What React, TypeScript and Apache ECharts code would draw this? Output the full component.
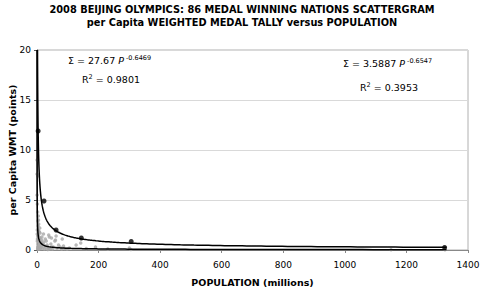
import React, { useEffect, useRef } from "react";
import * as echarts from "echarts";

const titleLines = [
  "2008 BEIJING OLYMPICS: 86 MEDAL WINNING NATIONS SCATTERGRAM",
  "per Capita WEIGHTED MEDAL TALLY versus POPULATION",
];
const xAxisName = "POPULATION (millions)";
const yAxisName = "per Capita WMT (points)";

// black grouped points [population (millions), per capita WMT]
const groupPoints: number[][] = [
  [3.7, 11.9], [22.8, 4.9], [62, 2.0], [144, 1.2], [306, 0.85], [1324, 0.25],
];

// grey individual nations
const nationPoints: number[][] = [
  [0.3, 9.0], [0.3, 7.6], [2.7, 7.4], [0.3, 5.5], [1.3, 4.6], [2.0, 3.8], [4.3, 3.4],
  [4.8, 3.0], [2.3, 2.9], [5.4, 2.6], [3.4, 2.4], [9.0, 2.2], [1.0, 2.0], [5.5, 1.9],
  [7.6, 1.8], [10.0, 1.7], [4.5, 1.5], [3.0, 1.4], [21, 1.6], [16, 1.3], [10.3, 1.2],
  [8.2, 1.1], [15, 1.0], [38, 1.5], [40, 1.3], [27, 1.1], [30, 0.9], [22, 0.8],
  [47, 1.2], [60, 1.0], [62, 1.4], [82, 1.1], [58, 0.9], [20, 0.6], [10.6, 0.7],
  [7.3, 0.5], [5.2, 0.4], [3.6, 0.6], [2.5, 0.3], [1.1, 0.9], [11, 0.4], [14, 0.3],
  [25, 0.4], [33, 0.5], [45, 0.6], [48, 0.3], [70, 0.5], [75, 0.3], [86, 0.4],
  [127, 0.5], [142, 0.7], [105, 0.2], [160, 0.15], [190, 0.3], [230, 0.1], [300, 0.2],
  [65, 0.2], [37, 0.2], [40, 0.1], [9, 0.2], [6, 0.1], [4, 0.15], [2, 0.1], [7, 0.3],
  [12, 0.15], [18, 0.2], [24, 0.1], [29, 0.25], [35, 0.05], [44, 0.15], [50, 0.1],
  [53, 0.3], [80, 0.1], [90, 0.15], [98, 0.1], [1.5, 1.1], [0.8, 1.6], [3.1, 2.0],
  [5.0, 0.8], [8.5, 0.9], [6.5, 1.3], [13.0, 0.8], [17, 0.5], [1325, 0.02],
  [1150, 0.03], [305, 0.05],
];

// power trendlines shown on the chart: Σ = a P^b
const upperFit = { a: 27.67, b: -0.6469, r2: "0.9801" };
const lowerFit = { a: 3.5887, b: -0.6547, r2: "0.3953" };
const fitRangeMax = 1330;

const xTicks = { min: 0, max: 1400, interval: 200 };
const yTicks = { min: 0, max: 20, interval: 5 };

function trend(fit: { a: number; b: number }, yMax: number): number[][] {
  const pStart = Math.pow(fit.a / yMax, 1 / -fit.b);
  const pts: number[][] = [];
  const n = 300;
  const l0 = Math.log(pStart);
  const l1 = Math.log(fitRangeMax);
  for (let i = 0; i <= n; i++) {
    const p = Math.exp(l0 + ((l1 - l0) * i) / n);
    pts.push([p, fit.a * Math.pow(p, fit.b)]);
  }
  return pts;
}

const FONT = "DejaVu Sans";

export default function App() {
  const ref = useRef<HTMLDivElement>(null);
  useEffect(() => {
    if (!ref.current) return;
    const chart = echarts.init(ref.current, null, { renderer: "svg" });
    const eq = (fit: { a: number; b: number }) => ({
      text: `{n|Σ = ${fit.a} }{i|P}{s| ${fit.b}}`,
      rich: {
        n: { fontSize: 9.5, fontFamily: FONT, fill: "#000" },
        i: { fontSize: 9.5, fontFamily: FONT, fontStyle: "italic", fill: "#000" },
        s: { fontSize: 6.5, fontFamily: FONT, fill: "#000", verticalAlign: "top", padding: [0, 0, 6, 0] },
      },
    });
    const r2 = (v: string) => ({
      text: `{n|R}{s|2}{n| = ${v}}`,
      rich: {
        n: { fontSize: 9.5, fontFamily: FONT, fill: "#000" },
        s: { fontSize: 6.5, fontFamily: FONT, fill: "#000", padding: [0, 0, 6, 0] },
      },
    });
    chart.setOption({
      animation: false,
      backgroundColor: "#fff",
      title: {
        text: titleLines.join("\n"),
        left: 237,
        textAlign: "center",
        top: -2,
        textStyle: { fontFamily: FONT, fontSize: 9.8, fontWeight: "bold", color: "#000", lineHeight: 13 },
      },
      grid: {
        left: 37, right: 17, top: 50, bottom: 39,
        containLabel: false, outerBoundsMode: "none",
        show: true, borderColor: "#b0b0b0", borderWidth: 1,
      },
      xAxis: {
        type: "value",
        ...xTicks,
        name: xAxisName,
        nameLocation: "middle",
        nameGap: 27,
        nameMoveOverlap: false,
        nameTextStyle: { fontFamily: FONT, fontSize: 9.5, fontWeight: "bold", color: "#000" },
        axisLine: { show: true, lineStyle: { color: "#888" } },
        axisTick: { show: true, length: 3, lineStyle: { color: "#888" } },
        axisLabel: { fontFamily: FONT, fontSize: 9, color: "#000", margin: 10, formatter: (v: number) => String(v) },
        splitLine: { show: false },
      },
      yAxis: {
        type: "value",
        ...yTicks,
        name: yAxisName,
        nameLocation: "middle",
        nameGap: 20,
        nameMoveOverlap: false,
        nameTextStyle: { fontFamily: FONT, fontSize: 9.5, fontWeight: "bold", color: "#000" },
        axisLine: { show: true, lineStyle: { color: "#555" } },
        axisTick: { show: true, length: 3, lineStyle: { color: "#555" } },
        axisLabel: { fontFamily: FONT, fontSize: 9, color: "#000", margin: 6, formatter: (v: number) => String(v) },
        splitLine: { show: true, lineStyle: { color: "#d9d9d9" } },
      },
      series: [
        {
          type: "scatter",
          data: nationPoints,
          symbol: "circle",
          symbolSize: 3.5,
          itemStyle: { color: "#a8a8a8" },
          z: 2,
        },
        {
          type: "line",
          data: trend(lowerFit, yTicks.max),
          showSymbol: false,
          symbol: "none",
          lineStyle: { color: "#000", width: 1.5 },
          z: 3,
        },
        {
          type: "line",
          data: trend(upperFit, yTicks.max),
          showSymbol: false,
          symbol: "none",
          lineStyle: { color: "#000", width: 1.5 },
          z: 3,
        },
        {
          type: "scatter",
          data: groupPoints,
          symbol: "circle",
          symbolSize: 5,
          itemStyle: { color: "#000" },
          z: 4,
        },
      ],
      graphic: [
        { type: "text", left: 68, top: 54, style: eq(upperFit) },
        { type: "text", left: 82, top: 73, style: r2(upperFit.r2) },
        { type: "text", left: 343, top: 57, style: eq(lowerFit) },
        { type: "text", left: 360, top: 81, style: r2(lowerFit.r2) },
      ],
    });
    return () => chart.dispose();
  }, []);
  return <div ref={ref} style={{ width: 485, height: 289, position: "absolute", left: 0, top: 0 }} />;
}
